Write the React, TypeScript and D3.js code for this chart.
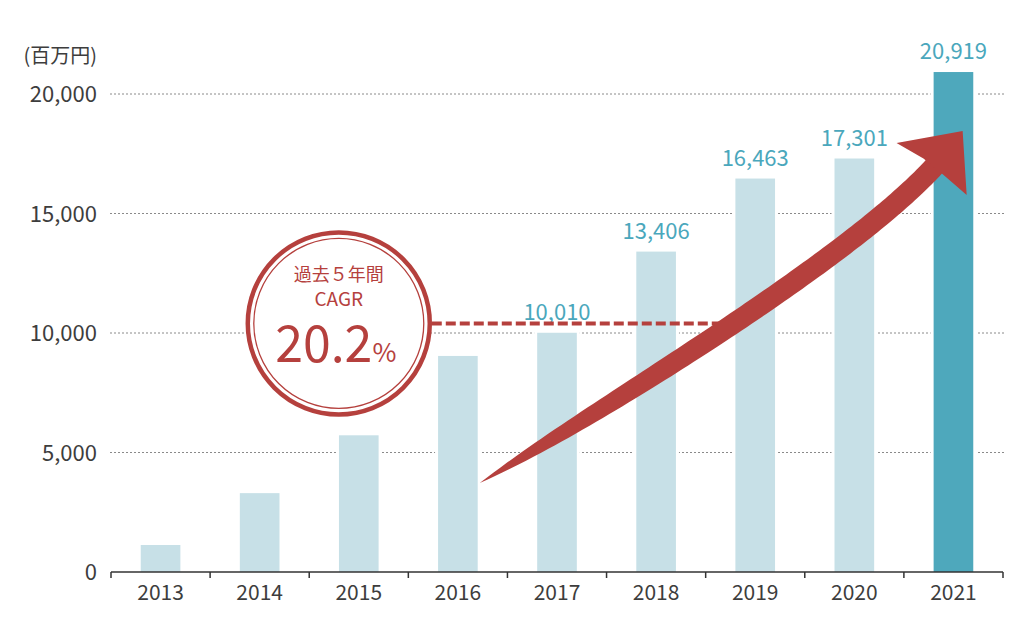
import React from "react";
import * as d3 from "d3";

const years = ["2013", "2014", "2015", "2016", "2017", "2018", "2019", "2020", "2021"];
const sales = [1130, 3300, 5720, 9040, 10010, 13406, 16463, 17301, 20919];
const shownLabels = [false, false, false, false, true, true, true, true, true];
const yTicks = [0, 5000, 10000, 15000, 20000];
const unitLabel = "(百万円)";
const cagrTitle = "過去５年間";
const cagrSub = "CAGR";
const cagrValue = "20.2";

const W = 1024, H = 622;
const FONT = "'Noto Sans CJK JP', 'Noto Sans', sans-serif";
const RED = "#b5403d";
const LIGHT = "#c7e0e7";
const DARK = "#4ea8bc";
const LABEL = "#4aa7bc";
const TEXT = "#3d3d3d";

export default function App() {
  const x = d3.scaleBand<string>().domain(years).range([111, 1003]).paddingInner(0.6).paddingOuter(0.3);
  const y = d3.scaleLinear().domain([0, 20000]).range([572, 94]);
  const fmt = d3.format(",");
  const step = x.step();
  const bw = x.bandwidth();
  const bandStart = (yr: string) => (x(yr) as number) - step * 0.3;

  // CAGR badge, placed over 2015's band
  const cx = (x("2015") as number) + bw / 2 - 20;
  const cy = y(10400);
  const r = 93;

  // growth arrow: from 2016 bar up to the 2021 bar (cubic curve, tapered)
  const p0: [number, number] = [(x("2016") as number) + bw + 2, y(3720)];
  const p3: [number, number] = [(x("2021") as number) + 2, y(17030)];
  const c1: [number, number] = [p0[0] + 250, p0[1] - 150];
  const c2: [number, number] = [p3[0] - 60, p3[1] + 66];
  const bez = (t: number): [number, number] => {
    const a = (1 - t) ** 3, b = 3 * (1 - t) ** 2 * t, c = 3 * (1 - t) * t * t, d = t ** 3;
    return [a * p0[0] + b * c1[0] + c * c2[0] + d * p3[0], a * p0[1] + b * c1[1] + c * c2[1] + d * p3[1]];
  };
  const der = (t: number): [number, number] => {
    const a = 3 * (1 - t) ** 2, b = 6 * (1 - t) * t, c = 3 * t * t;
    return [
      a * (c1[0] - p0[0]) + b * (c2[0] - c1[0]) + c * (p3[0] - c2[0]),
      a * (c1[1] - p0[1]) + b * (c2[1] - c1[1]) + c * (p3[1] - c2[1]),
    ];
  };
  const top: [number, number][] = [];
  const bot: [number, number][] = [];
  const N = 100;
  for (let i = 0; i <= N; i++) {
    const t = i / N;
    const [px, py] = bez(t);
    const [dx, dy] = der(t);
    const len = Math.hypot(dx, dy);
    const nx = dy / len, ny = -dx / len;
    const w = 10.5 * (1 - Math.exp(-t / 0.1));
    top.push([px - nx * w, py - ny * w]);
    bot.push([px + nx * w, py + ny * w]);
  }
  const shaft = [...top, ...bot.reverse()];
  const u: [number, number] = [0.633, -0.775];
  const n: [number, number] = [0.775, 0.633];
  const base: [number, number] = [p3[0] - 4, p3[1] + 4];
  const at = (a: number, b: number): [number, number] => [base[0] + u[0] * a + n[0] * b, base[1] + u[1] * a + n[1] * b];
  const head = [at(3, -13), at(-2, -43.6), at(49, 0), at(2, 43.6), at(3, 13)];
  const line = d3.line();

  return (
    <div style={{ position: "fixed", left: 0, top: 0, width: W, height: H, background: "#fff" }}>
      <svg width={W} height={H} style={{ display: "block", fontFamily: FONT }}>
        <text x={97} y={63} textAnchor="end" fontSize={20} fill={TEXT}>{unitLabel}</text>
        {yTicks.map((t) => (
          <g key={t}>
            {t > 0 && (
              <line x1={110} x2={1005} y1={y(t)} y2={y(t)} stroke="#8a8a8a" strokeWidth={1} strokeDasharray="2,2" />
            )}
            <text x={97} y={y(t) + 8} textAnchor="end" fontSize={22} fill={TEXT}>{fmt(t)}</text>
          </g>
        ))}
        {years.map((yr, i) => (
          <rect key={"w" + yr} x={(x(yr) as number) - 3} y={y(sales[i]) - 3} width={bw + 6} height={572 - y(sales[i]) + 3} fill="#fff" />
        ))}
        {years.map((yr, i) => (
          <rect key={yr} x={x(yr)} y={y(sales[i])} width={bw} height={572 - y(sales[i])} fill={i === years.length - 1 ? DARK : LIGHT} />
        ))}
        {years.map((yr, i) =>
          shownLabels[i] ? (
            <text key={"l" + yr} x={(x(yr) as number) + bw / 2} y={y(sales[i]) - 13} textAnchor="middle" fontSize={22} fill={LABEL}>
              {fmt(sales[i])}
            </text>
          ) : null
        )}
        <line x1={111} x2={1003} y1={572} y2={572} stroke="#333" strokeWidth={1.5} />
        {years.map((yr) => (
          <line key={"t" + yr} x1={bandStart(yr)} x2={bandStart(yr)} y1={572} y2={578} stroke="#333" strokeWidth={1.5} />
        ))}
        <line x1={1003} x2={1003} y1={572} y2={578} stroke="#333" strokeWidth={1.5} />
        {years.map((yr) => (
          <text key={"x" + yr} x={(x(yr) as number) + bw / 2} y={600} textAnchor="middle" fontSize={21} fill={TEXT}>{yr}</text>
        ))}

        <line x1={cx + r} x2={735} y1={cy} y2={cy} stroke={RED} strokeWidth={4} strokeDasharray="10,4" />
        <circle cx={cx} cy={cy} r={r - 2} fill="#fff" stroke={RED} strokeWidth={4.5} />
        <circle cx={cx} cy={cy} r={r - 8} fill="none" stroke={RED} strokeWidth={1.3} />
        <text x={cx} y={cy - 42} textAnchor="middle" fontSize={18} fill={RED}>{cagrTitle}</text>
        <text x={cx} y={cy - 17} textAnchor="middle" fontSize={19} fill={RED}>{cagrSub}</text>
        <text x={cx - 3} y={cy + 39} textAnchor="middle" fontSize={50} fill={RED}>
          {cagrValue}
          <tspan fontSize={26}>%</tspan>
        </text>

        <path d={line(shaft) + "Z"} fill={RED} />
        <path d={line(head) + "Z"} fill={RED} />
      </svg>
    </div>
  );
}
